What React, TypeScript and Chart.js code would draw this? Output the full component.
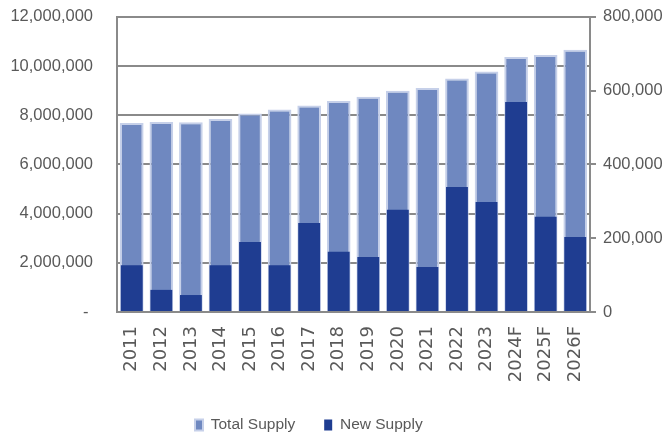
import React, { useEffect, useRef } from "react";
import { Chart, registerables } from "chart.js";

Chart.register(...registerables);

const categories = ["2011", "2012", "2013", "2014", "2015", "2016", "2017", "2018", "2019", "2020", "2021", "2022", "2023", "2024F", "2025F", "2026F"];
const totalSupply = [7690000, 7730000, 7720000, 7850000, 8070000, 8230000, 8400000, 8580000, 8750000, 9000000, 9110000, 9500000, 9780000, 10370000, 10450000, 10660000];
const newSupply = [127000, 60000, 46000, 127000, 190000, 127000, 241000, 163000, 149000, 277000, 122000, 339000, 298000, 569000, 258000, 203000];
const leftTicks = [0, 2000000, 4000000, 6000000, 8000000, 10000000, 12000000];
const rightTicks = [0, 200000, 400000, 600000, 800000];

const GRID = "#8a8a8a";
const TEXT = "#595959";
const PLOT_BOTTOM = 312;
const CANVAS_H = 439;
const LEGEND_PAD = 29;
const LEGEND_FONT = 15.5;

const legendPlace = {
  id: "legendPlace",
  afterLayout(chart: any) {
    const lg = chart.legend;
    if (!lg) return;
    const h = lg.bottom - lg.top;
    const top = 425 - LEGEND_PAD - LEGEND_FONT / 2;
    lg.top = top;
    lg.bottom = top + h;
    lg.left = 195 - LEGEND_PAD;
    lg.right = 671;
  },
};

export default function App() {
  const ref = useRef<HTMLCanvasElement | null>(null);
  useEffect(() => {
    if (!ref.current) return;
    const chart = new Chart(ref.current, {
      type: "bar",
      plugins: [legendPlace],
      data: {
        labels: categories,
        datasets: [
          {
            label: "New Supply",
            data: newSupply,
            yAxisID: "y1",
            backgroundColor: "#1f3d91",
            borderWidth: 0,
            grouped: false,
            barPercentage: 0.74,
            categoryPercentage: 1,
          },
          {
            label: "Total Supply",
            data: totalSupply,
            yAxisID: "y",
            backgroundColor: "#6f88c0",
            borderColor: "#c6d0e9",
            borderWidth: 2,
            grouped: false,
            barPercentage: 0.8,
            categoryPercentage: 1,
          },
        ],
      },
      options: {
        responsive: false,
        animation: false,
        layout: { padding: { top: 0, left: 0, right: 0, bottom: 0 } },
        plugins: {
          tooltip: { enabled: false },
          legend: {
            position: "bottom",
            align: "start",
            reverse: true,
            labels: {
              boxWidth: 8,
              boxHeight: 11,
              padding: LEGEND_PAD,
              color: TEXT,
              font: { family: "Liberation Sans", size: LEGEND_FONT },
            },
          },
        },
        scales: {
          x: {
            grid: { display: false, drawTicks: false },
            border: { display: true, color: GRID, width: 2 },
            ticks: {
              minRotation: 90,
              maxRotation: 90,
              padding: 14,
              color: TEXT,
              font: { family: "DejaVu Sans", size: 18 },
              autoSkip: false,
            },
            afterFit: (s: any) => {
              const lh = s.chart.legend ? s.chart.legend.height : 36;
              s.height = CANVAS_H - PLOT_BOTTOM - lh;
            },
          },
          y: {
            position: "left",
            min: 0,
            max: 12000000,
            afterBuildTicks: (s: any) => {
              s.ticks = leftTicks.map((v) => ({ value: v }));
            },
            grid: { color: GRID, lineWidth: 2, drawTicks: true, tickLength: 24, tickColor: "rgba(0,0,0,0)" },
            border: { display: true, color: GRID, width: 2 },
            ticks: {
              padding: 0,
              color: TEXT,
              font: { family: "Liberation Sans", size: 16.5 },
              callback: (v: any) => (Number(v) === 0 ? "- " : Number(v).toLocaleString("en-US")),
            },
            afterFit: (s: any) => {
              s.width = 117;
            },
          },
          y1: {
            position: "right",
            min: 0,
            max: 800000,
            afterBuildTicks: (s: any) => {
              s.ticks = rightTicks.map((v) => ({ value: v }));
            },
            grid: { drawOnChartArea: false, color: GRID, lineWidth: 2, drawTicks: true, tickLength: 6 },
            border: { display: true, color: GRID, width: 2 },
            ticks: {
              padding: 7,
              color: TEXT,
              font: { family: "Liberation Sans", size: 16.5 },
              callback: (v: any) => Number(v).toLocaleString("en-US"),
            },
            afterFit: (s: any) => {
              s.width = 81;
            },
          },
        },
      },
    });
    return () => chart.destroy();
  }, []);
  return (
    <div style={{ position: "fixed", left: 0, top: 0, width: 671, height: 439, background: "#fff" }}>
      <canvas ref={ref} width={671} height={439} />
    </div>
  );
}
